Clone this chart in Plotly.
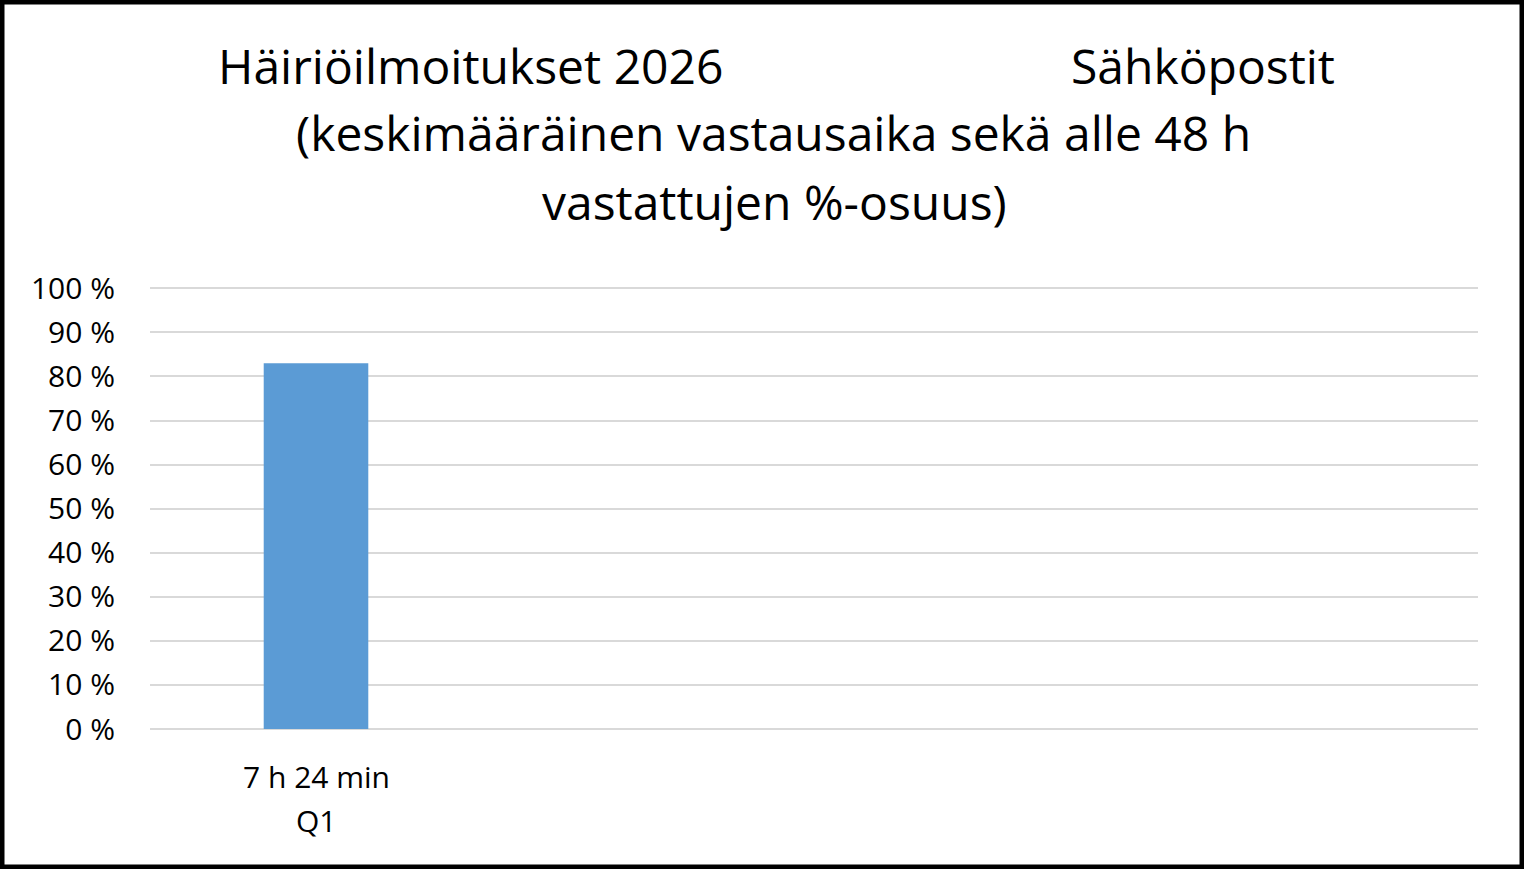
import plotly.graph_objects as go

# data
quarters = ["Q1", "Q2", "Q3", "Q4"]
share_within_48h = [83, None, None, None]
avg_response_time = ["7 h 24 min", "", "", ""]
y_ticks = list(range(0, 101, 10))
y_tick_labels = [f"{v} %" for v in y_ticks]

title_left = "Häiriöilmoitukset 2026"
title_right = "Sähköpostit"
title_line2 = "(keskimääräinen vastausaika sekä alle 48 h"
title_line3 = "vastattujen %-osuus)"

FONT = "'Open Sans', sans-serif"
W, H = 1524, 869
L, R, T, B = 150, 46, 287, 140
PW, PH = W - L - R, H - T - B


def px_x(p):
    return (p - L) / PW


def px_y(p):
    return (H - B - p) / PH


fig = go.Figure(
    go.Bar(
        x=quarters,
        y=share_within_48h,
        marker=dict(color="#5B9BD5", line=dict(width=0)),
        width=0.315,
    )
)

fig.update_layout(
    width=W,
    height=H,
    margin=dict(l=L, r=R, t=T, b=B),
    paper_bgcolor="white",
    plot_bgcolor="white",
    showlegend=False,
    font=dict(family=FONT, size=30, color="black"),
)

fig.update_xaxes(
    type="category",
    categoryarray=quarters,
    showticklabels=False,
    showgrid=False,
    showline=False,
    ticks="",
)
fig.update_yaxes(
    range=[0, 100.3],
    tickmode="array",
    tickvals=y_ticks,
    ticktext=y_tick_labels,
    showgrid=True,
    gridcolor="#D9D9D9",
    gridwidth=2,
    zeroline=True,
    zerolinecolor="#D9D9D9",
    zerolinewidth=2,
    ticks="",
    ticklabelstandoff=34,
    tickfont=dict(size=30),
)

# category labels: response time above quarter name
for q, t, v in zip(quarters, avg_response_time, share_within_48h):
    if v is None:
        continue
    for text, cy in [(t, 776), (q, 820)]:
        fig.add_annotation(
            text=text, x=q, xref="x", yref="paper", y=px_y(cy),
            xanchor="center", yanchor="middle", showarrow=False,
            font=dict(family=FONT, size=30, color="black"),
        )

title_font = dict(family=FONT, size=48, color="black")
for text, cx, cy in [
    (title_left, 470, 65),
    (title_right, 1203, 65),
    (title_line2, 773, 133),
    (title_line3, 774, 201),
]:
    fig.add_annotation(
        text=text, xref="paper", yref="paper", x=px_x(cx), y=px_y(cy),
        xanchor="center", yanchor="middle", showarrow=False, font=title_font,
    )

# outer frame
fig.add_shape(
    type="rect", xref="paper", yref="paper",
    x0=px_x(2), x1=px_x(W - 2), y0=px_y(H - 2), y1=px_y(2),
    line=dict(color="black", width=5), fillcolor="rgba(0,0,0,0)", layer="above",
)

fig.write_html(
    "out.html",
    config={"displayModeBar": False},
    post_script="document.body.style.margin='0';document.body.style.overflow='hidden';",
)
